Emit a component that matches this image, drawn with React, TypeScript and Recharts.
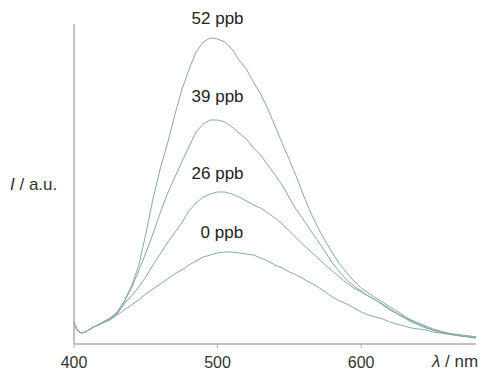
import { LineChart, Line, XAxis, YAxis, ReferenceDot } from "recharts";

// wavelength grid (nm) and intensities (a.u.)
const wavelengths = [
  400, 402, 405, 408, 410, 415, 420, 425, 430, 435, 440, 445, 450, 455, 460, 465, 470,
  475, 480, 485, 490, 495, 500, 505, 510, 515, 520, 525, 530, 535, 540, 545,
  550, 555, 560, 565, 570, 575, 580, 585, 590, 595, 600, 605, 610, 615, 620,
  625, 630, 635, 640, 645, 650, 655, 660, 665, 670, 675, 680,
];

const ppb52 = [
  22, 14, 11, 12, 14, 18, 22, 26, 32, 43, 58, 78, 110, 145, 175, 200, 228,
  254, 274, 292, 302, 306, 305, 302, 295, 284, 275, 262, 250, 235, 218, 201,
  184, 167, 148, 131, 116, 103, 91, 80, 71, 63, 56, 51, 46, 42, 37,
  33, 28, 24, 21, 18, 15, 13, 11, 10, 9, 8, 7,
];
const ppb39 = [
  22, 14, 11, 12, 14, 18, 21, 25, 31, 42, 56, 73, 91, 110, 131, 150, 166,
  182, 197, 212, 220, 224, 224, 222, 217, 211, 205, 196, 189, 179, 169, 159,
  146, 134, 124, 113, 103, 92, 81, 72, 64, 58, 53, 48, 44, 40, 35,
  31, 27, 23, 20, 17, 14, 12, 11, 9, 8, 7, 6,
];
const ppb26 = [
  22, 14, 11, 12, 14, 18, 21, 25, 30, 40, 48, 57, 67, 79, 90, 101, 111,
  121, 133, 141, 147, 150, 152, 152, 150, 147, 143, 139, 136, 131, 126, 120,
  113, 106, 99, 92, 86, 79, 73, 67, 61, 56, 52, 48, 44, 39, 34,
  30, 26, 22, 19, 16, 14, 12, 10, 9, 8, 7, 6,
];
const ppb0 = [
  22, 14, 11, 12, 14, 18, 21, 24, 29, 34, 39, 44, 50, 55, 60, 65, 70,
  74, 79, 83, 87, 89, 91, 92, 92, 91, 90, 89, 86, 83, 79, 76,
  72, 69, 65, 61, 57, 52, 47, 43, 40, 36, 32, 29, 27, 25, 22,
  20, 18, 16, 15, 14, 12, 11, 10, 9, 8, 8, 7,
];

const seriesKeys = ["c52", "c39", "c26", "c0"];
const seriesValues = [ppb52, ppb39, ppb26, ppb0];

// label text and where it sits (wavelength, intensity)
const peakLabels = ["52 ppb", "39 ppb", "26 ppb", "0 ppb"];
const labelX = [500, 500, 500, 503];
const labelY = [326, 248, 171, 112];

const xTicks = [400, 500, 600];

const data = wavelengths.map((w, i) => {
  const row: Record<string, number> = { w };
  seriesKeys.forEach((k, j) => {
    row[k] = seriesValues[j][i];
  });
  return row;
});

const CURVE = "#86a9ab";
const AXIS = "#a9b1b1";
const FONT = "'Liberation Sans', Arial, sans-serif";

function YLabel(props: any) {
  const vb = props.viewBox || {};
  const y = vb.y + vb.height / 2;
  return (
    <text x={10} y={y + 6} fontSize={17} fill="#333" fontFamily={FONT}>
      <tspan fontStyle="italic">I</tspan>
      <tspan> / a.u.</tspan>
    </text>
  );
}

function XLabel(props: any) {
  const vb = props.viewBox || {};
  return (
    <text
      x={vb.x + vb.width - 44}
      y={vb.y + 23}
      fontSize={17}
      fill="#333"
      fontFamily={FONT}
    >
      <tspan fontStyle="italic">λ</tspan>
      <tspan> / nm</tspan>
    </text>
  );
}

export default function App() {
  return (
    <div style={{ position: "absolute", left: 0, top: 0, background: "#fff" }}>
      <LineChart
        width={483}
        height={372}
        data={data}
        margin={{ top: 24, right: 7, left: 0, bottom: 0 }}
      >
        <XAxis
          dataKey="w"
          type="number"
          domain={[400, 680]}
          ticks={xTicks}
          tickSize={4}
          tickMargin={9}
          height={28}
          stroke={AXIS}
          axisLine={{ stroke: AXIS, strokeWidth: 1.5 }}
          tickLine={{ stroke: AXIS }}
          tick={{ fontSize: 16, fill: "#333", fontFamily: FONT }}
          label={{ content: <XLabel /> }}
        />
        <YAxis
          type="number"
          domain={[0, 320]}
          width={74}
          tick={false}
          tickLine={false}
          axisLine={{ stroke: AXIS, strokeWidth: 1.5 }}
          label={{ content: <YLabel /> }}
        />
        {seriesKeys.map((k) => (
          <Line
            key={k}
            dataKey={k}
            type="linear"
            stroke={CURVE}
            strokeWidth={1}
            dot={false}
            isAnimationActive={false}
          />
        ))}
        {peakLabels.map((t, i) => (
          <ReferenceDot
            key={t}
            x={labelX[i]}
            y={labelY[i]}
            r={0}
            ifOverflow="visible"
            label={{
              value: t,
              position: "center",
              fontSize: 17,
              fill: "#222",
              fontFamily: FONT,
            }}
          />
        ))}
      </LineChart>
    </div>
  );
}
